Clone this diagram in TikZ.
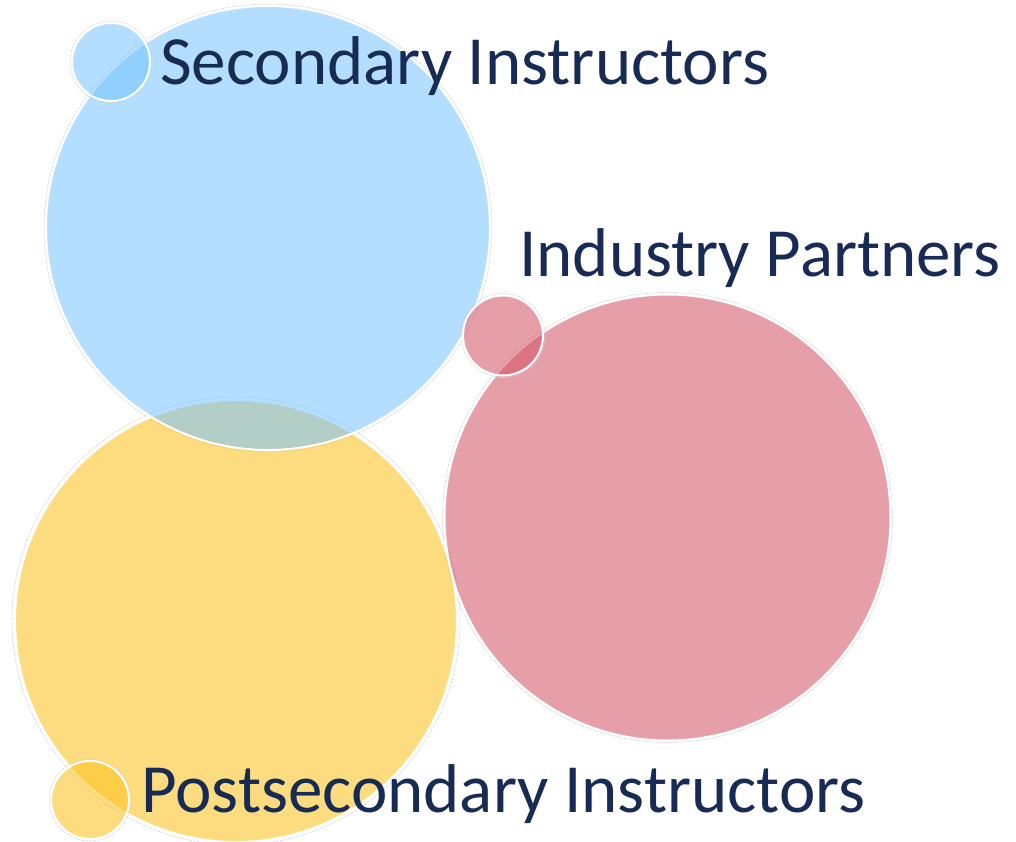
\documentclass[tikz,border=0pt]{standalone}
\usepackage{fontspec}
\setmainfont{Carlito}
\definecolor{cblue}{RGB}{117,195,255}
\definecolor{cred}{RGB}{210,79,97}
\definecolor{cyellow}{RGB}{251,192,24}
\definecolor{navy}{RGB}{23,43,84}
\begin{document}
\begin{tikzpicture}[x=1pt,y=-1pt,
  bubble/.style={circle, inner sep=0pt, fill=#1, fill opacity=0.55, draw=white, line width=2pt, draw opacity=1},
  halo/.style={circle, inner sep=0pt, draw=black!18, line width=0.5pt, dash pattern=on 3pt off 1pt},
  lbl/.style={anchor=base west, text=navy, font=\fontsize{69}{80}\selectfont, inner sep=0pt}]
\useasboundingbox (0,0) rectangle (1016,842);
% halos
\node[halo, minimum size=448pt] (yh) at (236,621) {};
\node[halo, minimum size=448pt] (bh) at (268,228) {};
\node[halo, minimum size=450pt] (rh) at (667.5,517.5) {};
% big circles
\node[bubble=cyellow, minimum size=442pt] (yb) at (236,621) {};
\node[bubble=cblue, minimum size=444pt] (bb) at (268,228) {};
\node[bubble=cred, minimum size=446pt] (rb) at (667.5,517.5) {};
% small circles
\node[halo, minimum size=82pt] (bsh) at (111,62) {};
\node[halo, minimum size=84pt] (rsh) at (503,335.5) {};
\node[halo, minimum size=82pt] (ysh) at (90,800) {};
\node[bubble=cblue, minimum size=78pt] (bs) at (111,62) {};
\node[bubble=cred, minimum size=80pt] (rs) at (503,335.5) {};
\node[bubble=cyellow, minimum size=78pt] (ys) at (90,800) {};
% labels
\node[lbl] (tb) at (160,85) {Secondary Instructors};
\node[lbl] (tr) at (519,276) {Industry Partners};
\node[lbl] (ty) at (141,812) {Postsecondary Instructors};
\end{tikzpicture}
\end{document}
